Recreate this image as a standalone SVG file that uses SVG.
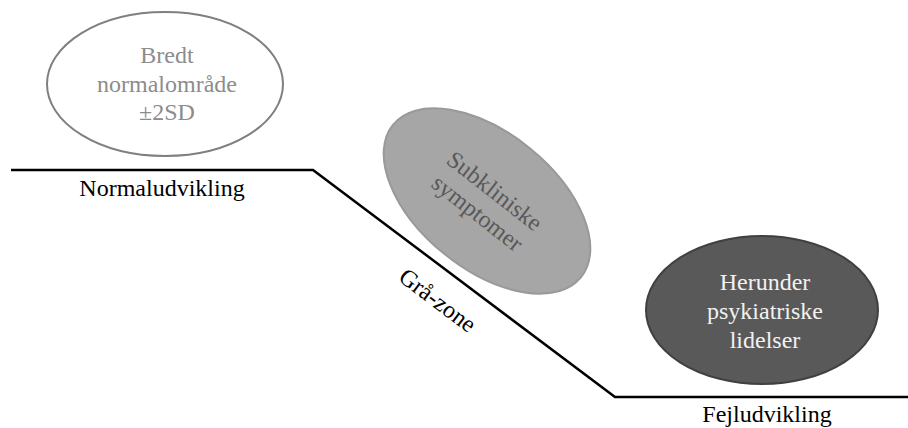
<svg xmlns="http://www.w3.org/2000/svg" width="908" height="428" viewBox="0 0 908 428">
  <style>
    text { font-family: "Liberation Serif", "Times New Roman", serif; font-size: 24px; text-anchor: middle; }
    .t1 { fill: #8c8c8c; }
    .t2 { fill: #595959; }
    .t3 { fill: #f2f2f2; }
    .lbl { fill: #000000; }
  </style>
  <rect x="0" y="0" width="908" height="428" fill="#ffffff"/>
  <g id="connectors">
    <polyline points="11,170 313,170 615,397 908,397" fill="none" stroke="#000000" stroke-width="2.5"/>
  </g>
  <g id="node-normal">
    <ellipse cx="165" cy="84" rx="118" ry="72" fill="#ffffff" stroke="#7f7f7f" stroke-width="2"/>
    <text class="t1" x="167" y="63">Bredt</text>
    <text class="t1" x="167" y="92">normalområde</text>
    <text class="t1" x="167" y="120">±2SD</text>
  </g>
  <g id="node-subklinisk">
    <ellipse cx="487" cy="201" rx="121" ry="68" transform="rotate(39 487 201)" fill="#a6a6a6" stroke="#999999" stroke-width="2"/>
    <g transform="translate(486,202) rotate(38)">
      <text class="t2" x="0" y="-6">Subkliniske</text>
      <text class="t2" x="0" y="22">symptomer</text>
    </g>
  </g>
  <g id="node-psyk">
    <ellipse cx="762" cy="310" rx="116" ry="74" fill="#595959" stroke="#404040" stroke-width="2"/>
    <text class="t3" x="765" y="290">Herunder</text>
    <text class="t3" x="765" y="319">psykiatriske</text>
    <text class="t3" x="765" y="348">lidelser</text>
  </g>
  <g id="labels">
    <text class="lbl" x="162" y="196">Normaludvikling</text>
    <g transform="translate(313,170) rotate(37)">
      <text class="lbl" x="178" y="37">Grå-zone</text>
    </g>
    <text class="lbl" x="767" y="422">Fejludvikling</text>
  </g>
</svg>
